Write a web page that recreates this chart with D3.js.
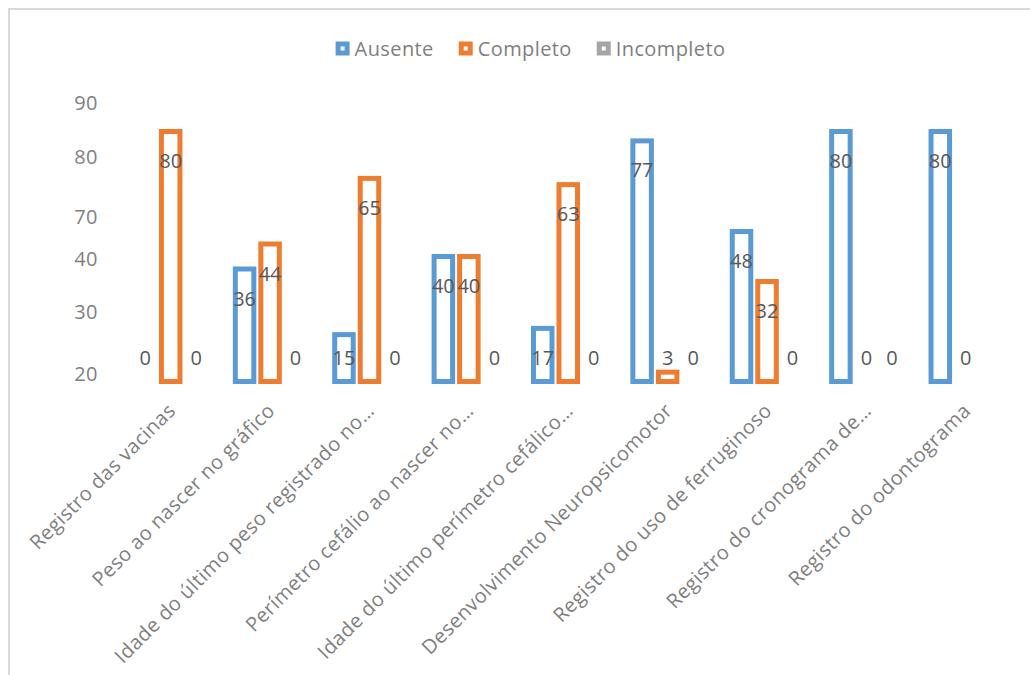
<!DOCTYPE html>
<html>
<head>
<meta charset="utf-8">
<script src="https://cdn.jsdelivr.net/npm/d3@7"></script>
<style>
    body { margin: 0; background: #ffffff; }
    svg { font-family: "Open Sans", "Noto Sans", sans-serif; }
</style>
</head>
<body>
<div id="chart"></div>
<script>
// Categories and series values
var categories = [
    "Registro das vacinas",
    "Peso ao nascer no gráfico",
    "Idade do último peso registrado no…",
    "Perímetro cefálio ao nascer no…",
    "Idade do último perímetro cefálico…",
    "Desenvolvimento Neuropsicomotor",
    "Registro do uso de ferruginoso",
    "Registro do cronograma de…",
    "Registro do odontograma"
];
var seriesNames = ["Ausente", "Completo", "Incompleto"];
var seriesColors = ["#5b9bd5", "#ed7d31", "#a5a5a5"];
var ausente = [0, 36, 15, 40, 17, 77, 48, 80, 80];
var completo = [80, 44, 65, 40, 63, 3, 32, 0, 0];
var incompleto = [0, 0, 0, 0, 0, 0, 0, 0, 0];

// The y axis labels in the picture are not evenly spaced; these are where they sit
var tickValues = [2.4, 22.2, 39.2, 52.6, 71.7, 89.2];
var tickLabels = ["20", "30", "40", "70", "80", "90"];

var width = 1030, height = 675;
var seriesValues = [ausente, completo, incompleto];

var svg = d3.select("#chart").append("svg")
    .attr("width", width)
    .attr("height", height);

// Chart frame
svg.append("rect")
    .attr("x", 9).attr("y", 9)
    .attr("width", width + 20).attr("height", height + 20)
    .attr("fill", "#ffffff")
    .attr("stroke", "#d9d9d9")
    .attr("stroke-width", 2);

var x0 = d3.scaleBand()
    .domain(d3.range(categories.length))
    .range([121, 1015.5])
    .paddingInner(0.23)
    .paddingOuter(0.115);

var x1 = d3.scaleBand()
    .domain(seriesNames)
    .range([0, x0.bandwidth()]);

var y = d3.scaleLinear()
    .domain([0, 90])
    .range([381.5, 100.25]);

// Y axis (labels only)
var yAxis = svg.append("g")
    .attr("transform", "translate(98,0)")
    .call(d3.axisLeft(y)
        .tickValues(tickValues)
        .tickFormat(function(d, i) { return tickLabels[i]; })
        .tickSize(0)
        .tickPadding(0));
yAxis.select(".domain").remove();
yAxis.selectAll("text")
    .attr("font-family", "Open Sans, Noto Sans, sans-serif")
    .attr("font-size", 20)
    .attr("letter-spacing", 0.5)
    .attr("fill", "#7f7f7f");

// Flatten into bar records
var rows = [];
categories.forEach(function(c, i) {
    seriesNames.forEach(function(s, j) {
        rows.push({cat: i, series: s, color: seriesColors[j], value: seriesValues[j][i]});
    });
});

var gap = 2, stroke = 5;
var plotRight = 985;

// Bars (outlined)
svg.append("g").selectAll("rect")
    .data(rows.filter(function(d) { return d.value > 0; }))
    .enter().append("rect")
    .attr("x", function(d) { return x0(d.cat) + x1(d.series) + gap / 2 + stroke / 2; })
    .attr("width", x1.bandwidth() - gap - stroke)
    .attr("y", function(d) { return y(d.value); })
    .attr("height", function(d) { return y(0) - y(d.value); })
    .attr("fill", "#ffffff")
    .attr("stroke", function(d) { return d.color; })
    .attr("stroke-width", stroke);

// Value labels (those past the plot edge are hidden, as in the source)
svg.append("g").selectAll("text")
    .data(rows.filter(function(d) {
        return x0(d.cat) + x1(d.series) + x1.bandwidth() / 2 < plotRight;
    }))
    .enter().append("text")
    .attr("x", function(d) { return x0(d.cat) + x1(d.series) + x1.bandwidth() / 2; })
    .attr("y", function(d) {
        var ly = d.value > 0 ? y(d.value) + 29.5 : y(0);
        return Math.max(Math.min(ly, y(0) - 24), y(72));
    })
    .attr("dy", "0.35em")
    .attr("text-anchor", "middle")
    .attr("font-size", 20)
    .attr("fill", "#595959")
    .text(function(d) { return d.value; });

// Category labels, rotated
svg.append("g").selectAll("text")
    .data(categories)
    .enter().append("text")
    .attr("transform", function(d, i) {
        return "translate(" + (x0(i) + x0.bandwidth() / 2 + 6) + ",412) rotate(-45)";
    })
    .attr("text-anchor", "end")
    .attr("font-size", 20)
    .attr("letter-spacing", 0.4)
    .attr("fill", "#7f7f7f")
    .text(function(d) { return d; });

// Legend
var legend = svg.append("g");
var lx = 0;
seriesNames.forEach(function(s, j) {
    var item = legend.append("g").attr("transform", "translate(" + lx + ",0)");
    item.append("rect")
        .attr("x", 2.5).attr("y", 44)
        .attr("width", 9).attr("height", 9)
        .attr("fill", "#ffffff")
        .attr("stroke", seriesColors[j])
        .attr("stroke-width", 5);
    var t = item.append("text")
        .attr("x", 19).attr("y", 56)
        .attr("font-size", 20)
        .attr("letter-spacing", 0.4)
        .attr("fill", "#7f7f7f")
        .text(s);
    lx += 19 + t.node().getComputedTextLength() + 25;
});
var legendWidth = lx - 25;
legend.attr("transform", "translate(" + (530.5 - legendWidth / 2) + ",0)");
</script>
</body>
</html>
